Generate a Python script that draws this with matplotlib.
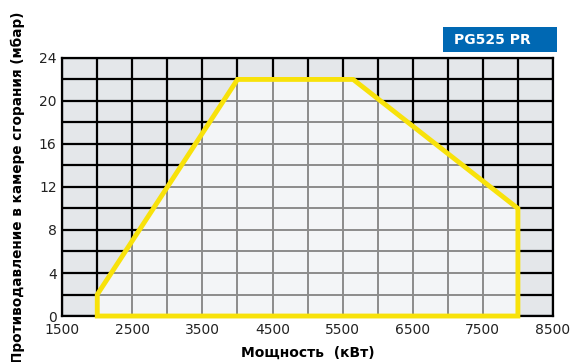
import matplotlib.pyplot as plt
from matplotlib.patches import Polygon, Rectangle
import numpy as np

# working field envelope of the burner (power kW, back pressure mbar)
power_kw = [2000, 2000, 4000, 5650, 8000, 8000]
pressure_mbar = [0, 2, 22, 22, 10, 0]

x_ticks = [1500, 2500, 3500, 4500, 5500, 6500, 7500, 8500]
y_ticks = [0, 4, 8, 12, 16, 20, 24]
x_grid = np.arange(1500, 8501, 500)
y_grid = np.arange(0, 25, 2)

fig = plt.figure(figsize=(5.76, 3.62), dpi=100)
ax = fig.add_axes([0.108, 0.127, 0.852, 0.713])
ax.set_xlim(1500, 8500)
ax.set_ylim(0, 24)
ax.set_facecolor("#e4e7ea")

# black grid outside the envelope
ax.vlines(x_grid, 0, 24, colors="black", linewidth=1.6, zorder=1)
ax.hlines(y_grid, 1500, 8500, colors="black", linewidth=1.6, zorder=1)

# lighter area with grey grid inside the envelope
env = Polygon(list(zip(power_kw, pressure_mbar)), closed=True,
              facecolor="#f3f5f7", edgecolor="none", zorder=2)
ax.add_patch(env)
vl = ax.vlines(x_grid, 0, 24, colors="#8c8c8c", linewidth=1.4, zorder=3)
hl = ax.hlines(y_grid, 1500, 8500, colors="#8c8c8c", linewidth=1.4, zorder=3)
vl.set_clip_path(env)
hl.set_clip_path(env)

ax.add_patch(Polygon(list(zip(power_kw, pressure_mbar)), closed=True,
                     facecolor="none", edgecolor="#f8e20a", linewidth=3.5,
                     joinstyle="miter", zorder=4, clip_on=False))

for s in ax.spines.values():
    s.set_linewidth(1.6)
    s.set_color("black")

ax.set_xticks(x_ticks)
ax.set_yticks(y_ticks)
ax.tick_params(length=0, labelsize=10, colors="#222222")
ax.tick_params(axis="x", pad=5)
ax.tick_params(axis="y", pad=4)
ax.set_xlabel("Мощность  (кВт)", fontsize=10, fontweight="bold", labelpad=6)
ax.set_ylabel("Противодавление в камере сгорания (мбар)", fontsize=9.8,
              fontweight="bold", labelpad=10)

# model badge
fig.add_artist(Rectangle((443 / 576, 1 - 52 / 362), 114 / 576, 25 / 362,
                         transform=fig.transFigure, facecolor="#0068b3",
                         edgecolor="none"))
fig.text(492 / 576, 1 - 39.5 / 362, "PG525 PR", color="white", fontsize=10,
         fontweight="bold", ha="center", va="center")

fig.savefig("out.png", dpi=100)
